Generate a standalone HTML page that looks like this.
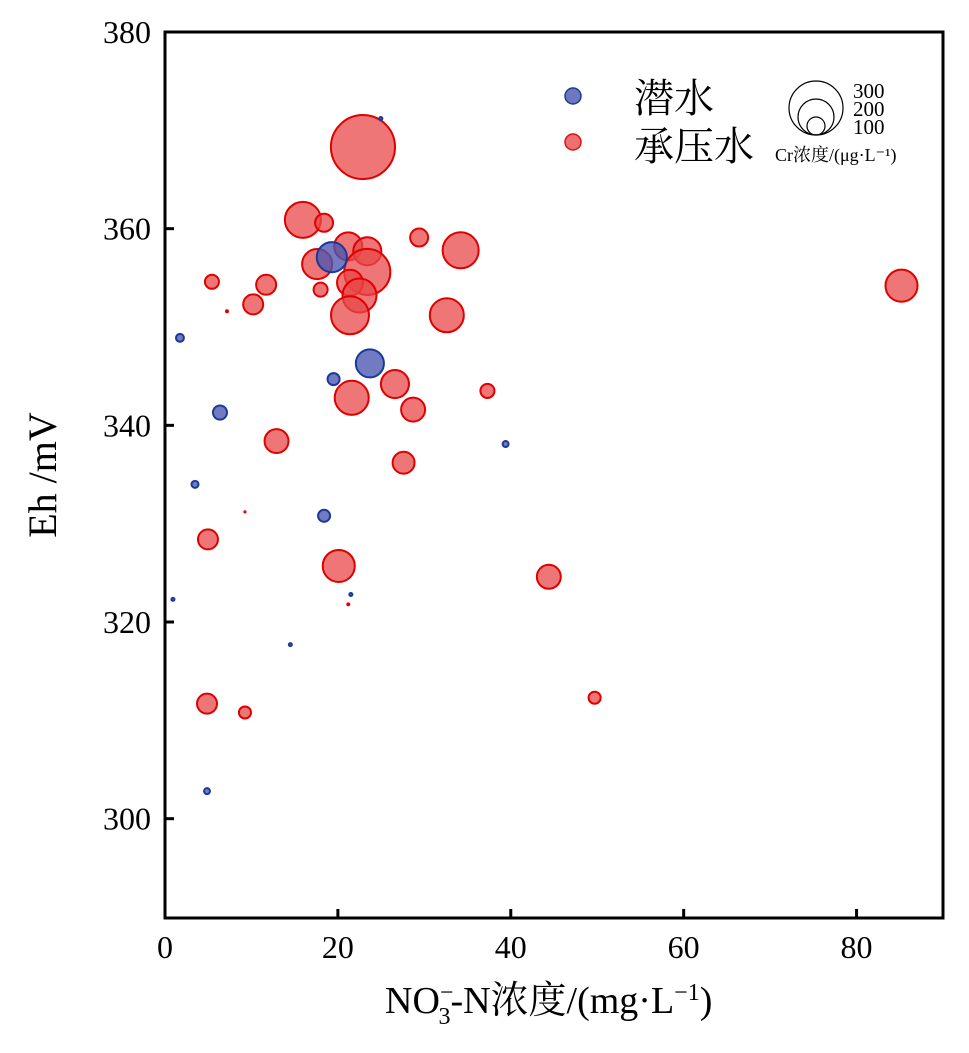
<!DOCTYPE html>
<html><head><meta charset="utf-8"><style>
html,body{margin:0;padding:0;background:#fff;}
svg text{font-family:"Liberation Serif","Noto Serif CJK SC",serif;}
</style></head><body>
<svg id="chart" width="969" height="1048" xmlns="http://www.w3.org/2000/svg">
<g id="marks"></g>
<g id="axes"></g>
<g>
  <circle cx="573" cy="96" r="8" fill="#6e78bf" stroke="#1a3a9a" stroke-width="1.5"/>
  <text x="634" y="112" font-size="40">潜水</text>
  <circle cx="573" cy="142" r="8" fill="#ee7070" stroke="#e01010" stroke-width="1.5"/>
  <text x="634" y="160" font-size="40">承压水</text>
  <circle cx="816" cy="108" r="27" fill="none" stroke="#000" stroke-width="1.2"/>
  <circle cx="816" cy="117" r="18" fill="none" stroke="#000" stroke-width="1.2"/>
  <circle cx="816" cy="126" r="9" fill="none" stroke="#000" stroke-width="1.2"/>
  <text x="853" y="98" font-size="21">300</text>
  <text x="853" y="116" font-size="21">200</text>
  <text x="853" y="134" font-size="21">100</text>
  <text x="775" y="161" font-size="18">Cr浓度/(μg·L⁻¹)</text>
</g>
<text transform="translate(56,475) rotate(-90)" text-anchor="middle" font-size="40">Eh /mV</text>
<text x="385" y="1013" font-size="38">NO<tspan font-size="24" dy="-13">−</tspan><tspan font-size="24" dx="-15" dy="24">3</tspan><tspan dy="-11">-N浓度/(mg·L</tspan><tspan font-size="24" dy="-13">−1</tspan><tspan dy="13">)</tspan></text>
</svg>
<script>
const blueX=[24.97,19.3,23.7,19.5,6.36,1.73,3.47,18.4,39.4,0.92,21.5,14.5,4.86];
const blueY=[371.2,357.1,346.3,344.7,341.3,348.9,334.0,330.8,338.1,322.3,322.8,317.7,302.8];
const blueCr=[17,167,156,67,78,44,39,67,33,17,17,17,33];
const redX=[22.9,15.95,18.4,21.2,23.4,23.4,17.6,21.4,18.0,22.5,21.4,29.4,34.2,5.43,11.7,10.2,7.17,32.6,26.6,21.6,28.7,37.3,12.9,27.6,4.97,20.1,44.4,9.25,21.2,4.86,9.25,49.7,85.2];
const redY=[368.3,360.9,360.6,358.2,357.7,355.6,356.4,354.5,353.8,353.2,351.2,359.1,357.8,354.6,354.3,352.3,351.6,351.2,344.2,342.8,341.6,343.5,338.4,336.2,328.4,325.7,324.6,331.2,321.8,311.7,310.8,312.3,354.2];
const redCr=[356,200,100,156,156,256,167,144,78,189,211,100,200,78,111,111,11,189,156,189,133,78,133,122,111,178,133,6,11,111,67,67,178];
const xTicks=[0,20,40,60,80];
const yTicks=[300,320,340,360,380];
const NS='http://www.w3.org/2000/svg';
const L=165,R=943,T=32,B=918;
const xmin=0,xmax=90,ymin=289.9,ymax=380;
function sx(v){return L+(v-xmin)/(xmax-xmin)*(R-L);}
function sy(v){return B-(v-ymin)/(ymax-ymin)*(B-T);}
function sr(c){return Math.max(0.6,c*0.09);}
function mk(tag,attrs,parent){const e=document.createElementNS(NS,tag);for(const k in attrs)e.setAttribute(k,attrs[k]);parent.appendChild(e);return e;}
const marks=document.getElementById('marks');
const axes=document.getElementById('axes');
for(let i=0;i<redX.length;i++){
  const c=mk('circle',{cx:sx(redX[i]),cy:sy(redY[i]),r:sr(redCr[i]),fill:'#e84848','fill-opacity':0.75,stroke:'#e00000','stroke-width':2},marks);
  
  
}
for(let i=0;i<blueX.length;i++){
  const c=mk('circle',{cx:sx(blueX[i]),cy:sy(blueY[i]),r:sr(blueCr[i]),fill:'#4a56b0','fill-opacity':0.78,stroke:'#1a3a9a','stroke-width':2},marks);
  
  
}
const fr=mk('rect',{x:L,y:T,width:R-L,height:B-T,fill:'none',stroke:'#000','stroke-width':3},axes);


xTicks.forEach(v=>{
  const t=mk('line',{x1:sx(v),x2:sx(v),y1:B,y2:B-9,stroke:'#000','stroke-width':3},axes);
  
  
  const tx=mk('text',{x:sx(v),y:B+40,'text-anchor':'middle','font-size':32},axes);
  tx.textContent=v;
  
  
});
yTicks.forEach(v=>{
  const t=mk('line',{x1:L,x2:L+9,y1:sy(v),y2:sy(v),stroke:'#000','stroke-width':3},axes);
  
  
  const tx=mk('text',{x:L-14,y:sy(v)+11,'text-anchor':'end','font-size':32},axes);
  tx.textContent=v;
  
  
});
</script>
</body></html>
